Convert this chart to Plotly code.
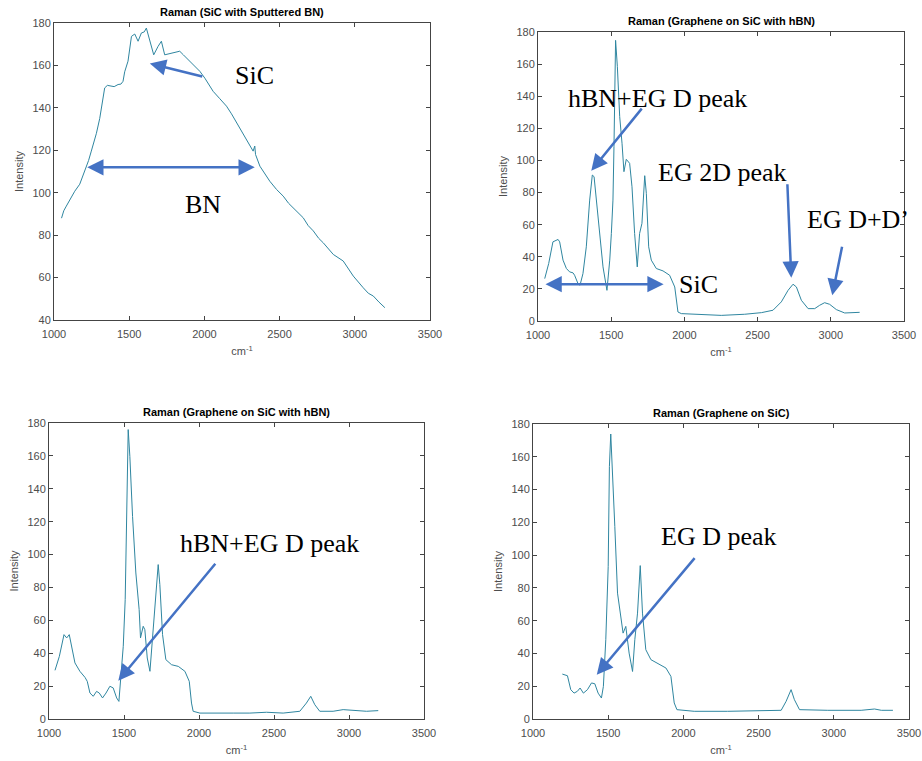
import plotly.graph_objects as go

# ---------------- data ----------------
# Panel 1: Raman (SiC with Sputtered BN)
p1_x = [1050, 1065, 1082, 1110, 1138, 1171, 1190, 1211, 1230, 1248, 1282, 1304, 1320, 1337, 1355, 1371,
        1400, 1426, 1445, 1459, 1470, 1492, 1505, 1515, 1537, 1559, 1581, 1600, 1614, 1637, 1663,
        1692, 1714, 1736, 1765, 1792, 1836, 1860, 1881, 1925, 1970, 2003, 2030, 2058, 2100, 2147,
        2180, 2213, 2250, 2280, 2324, 2335, 2340, 2369, 2400, 2435, 2480, 2524, 2560, 2590, 2620,
        2657, 2690, 2724, 2760, 2790, 2857, 2890, 2923, 2990, 3020, 3056, 3090, 3123, 3160, 3200]
p1_y = [88, 91.5, 93.7, 97.5, 100.7, 104, 107.5, 111.7, 115.2, 119.6, 128, 135, 143, 149.4, 150.6, 150.5,
        150, 151, 151.2, 152.5, 157, 162, 170, 173.7, 174.8, 171.4, 175.3, 175.8, 177.6, 171.4, 165,
        169, 171.4, 165, 165.5, 166.2, 166.7, 165, 163.5, 160.4, 157.2, 154, 151, 147.8, 144.5, 140.8,
        137.2, 133, 129, 125, 119.6, 122, 118, 112.5, 109, 105.4, 101.5, 98.4, 95, 92.9, 91.2,
        88.2, 84.5, 82, 78.5, 76.4, 70.9, 69.5, 67.8, 60.7, 58, 55.2, 52.6, 51.3, 48.5, 45.8]

# Panel 2: Raman (Graphene on SiC with hBN)
p2_x = [1046, 1073, 1102, 1137, 1148, 1171, 1194, 1216, 1239, 1250, 1273, 1287, 1307, 1330, 1353,
        1371, 1383, 1410, 1444, 1471, 1490, 1501, 1512, 1519, 1530, 1542, 1558, 1574, 1587, 1603,
        1626, 1642, 1660, 1678, 1694, 1710, 1729, 1740, 1756, 1774, 1808, 1854, 1899, 1934, 1956,
        1979, 2070, 2252, 2412, 2526, 2605, 2662, 2708, 2742, 2765, 2799, 2845, 2890, 2924, 2958,
        2992, 3038, 3095, 3152, 3197]
p2_y = [26.4, 35.8, 49.3, 50.8, 49.3, 37.9, 32.7, 30.6, 30, 28.5, 23.3, 22.3, 29.5, 46.2, 75.3,
        90.9, 89.9, 62.8, 33.7, 19.1, 37.9, 54.5, 75.3, 108.6, 174.8, 158.6, 127.3, 110.7, 93, 100.7,
        98.2, 83.6, 54.5, 33.7, 54.5, 60.8, 90.5, 79.5, 46.2, 37.9, 32.7, 31.2, 28.5, 21.2, 5.6,
        4.6, 4.2, 3.5, 4.2, 5.2, 6.7, 11.9, 19.1, 22.9, 21.2, 12.9, 7.7, 7.7, 9.8, 11.4,
        10.4, 7.1, 5.0, 5.0, 5.4]

# Panel 3: Raman (Graphene on SiC with hBN)
p3_x = [1040, 1069, 1100, 1118, 1135, 1151, 1173, 1206, 1240, 1255, 1273, 1295, 1317, 1335, 1357,
        1380, 1406, 1428, 1451, 1466, 1477, 1495, 1508, 1519, 1528, 1539, 1557, 1579, 1601, 1610,
        1628, 1639, 1655, 1673, 1684, 1699, 1717, 1728, 1739, 1757, 1779, 1817, 1862, 1906, 1935,
        1950, 1961, 2006, 2228, 2339, 2450, 2561, 2672, 2716, 2745, 2772, 2805, 2894, 2961, 3028,
        3117, 3195]
p3_y = [29.6, 38.1, 51.3, 49.3, 51.3, 44.2, 34.1, 29, 25.3, 22.9, 15.8, 13.8, 16.8, 15.8, 12.8,
        15.8, 19.9, 18.9, 12.8, 10.7, 25.9, 44.2, 72.6, 137.4, 176, 159.7, 123.2, 88.8, 66.5, 49.3,
        56.4, 54.3, 37.1, 29, 41.2, 56.4, 80.7, 93.9, 81.7, 51.3, 36.1, 33, 32, 29, 22.9,
        9.7, 4.7, 3.6, 3.6, 3.6, 4.1, 3.6, 4.7, 9.7, 13.8, 8.7, 4.7, 4.7, 5.7, 5.1,
        4.7, 5.1]

# Panel 4: Raman (Graphene on SiC)
p4_x = [1195, 1229, 1251, 1273, 1295, 1313, 1335, 1362, 1389, 1411, 1433, 1455, 1468, 1484, 1500,
        1508, 1517, 1528, 1544, 1562, 1579, 1599, 1617, 1639, 1662, 1677, 1695, 1713, 1728, 1750,
        1784, 1828, 1884, 1917, 1939, 1957, 2072, 2294, 2516, 2650, 2683, 2716, 2738, 2772, 2960,
        3182, 3271, 3316, 3393]
p4_y = [27.4, 26.4, 17.9, 15.8, 16.9, 18.9, 15.8, 17.9, 22, 21.5, 15.8, 12.8, 19.9, 48.4, 93,
        154, 173.9, 154, 117.4, 76.8, 64.6, 52.4, 56.5, 40.2, 29, 48.4, 64.6, 93.6, 64.6, 42.3,
        36.2, 34.1, 31.1, 26, 9.8, 5.7, 4.7, 4.7, 5.1, 5.3, 10.8, 17.9, 11.8, 5.7, 5.3,
        5.3, 6.1, 5.3, 5.3]

titles = ["Raman (SiC with Sputtered BN)", "Raman (Graphene on SiC with hBN)",
          "Raman (Graphene on SiC with hBN)", "Raman (Graphene on SiC)"]
x_ticks = [1000, 1500, 2000, 2500, 3000, 3500]
y_ticks_p1 = [40, 60, 80, 100, 120, 140, 160, 180]
y_ticks_rest = [0, 20, 40, 60, 80, 100, 120, 140, 160, 180]

# ---------------- styling ----------------
W, H = 922, 761
LINE = "#2f86a0"
ARROW = "#4472C4"
SANS = "Liberation Sans, Arial, sans-serif"
SERIF = "Liberation Serif, Times New Roman, serif"
TICKCOL = "#4d4d4d"

# panel pixel boxes (left, right, top, bottom)
boxes = [(54, 430, 23, 320), (538, 904, 32, 321), (49, 424, 423, 719), (533, 909, 424, 719)]

fig = go.Figure()
series = [(p1_x, p1_y), (p2_x, p2_y), (p3_x, p3_y), (p4_x, p4_y)]
for i, (xs, ys) in enumerate(series):
    sfx = "" if i == 0 else str(i + 1)
    fig.add_trace(go.Scatter(x=xs, y=ys, mode="lines", line=dict(color=LINE, width=1),
                             xaxis="x" + sfx, yaxis="y" + sfx, showlegend=False, hoverinfo="skip"))

layout = dict(width=W, height=H, margin=dict(l=0, r=0, t=0, b=0, autoexpand=False),
              paper_bgcolor="white", plot_bgcolor="white", showlegend=False)
annotations = []
for i, (l, r, t, b) in enumerate(boxes):
    sfx = "" if i == 0 else str(i + 1)
    yt = y_ticks_p1 if i == 0 else y_ticks_rest
    common = dict(showline=True, linecolor="#444444", linewidth=1, mirror="ticks",
                  ticks="inside", ticklen=4, tickcolor="#444444", showgrid=False, zeroline=False,
                  automargin=False,
                  tickfont=dict(family=SANS, size=11, color=TICKCOL))
    layout["xaxis" + sfx] = dict(domain=[l / W, r / W], anchor="y" + sfx, range=[1000, 3500],
                                 tickvals=x_ticks, ticktext=[str(v) for v in x_ticks],
                                 ticklabelstandoff=4,
                                 title=dict(text="cm<sup>-1</sup>", standoff=8,
                                            font=dict(family=SANS, size=11, color=TICKCOL)),
                                 **common)
    layout["yaxis" + sfx] = dict(domain=[1 - b / H, 1 - t / H], anchor="x" + sfx,
                                 range=[yt[0], yt[-1]], tickvals=yt, ticktext=[str(v) for v in yt],
                                 title=dict(text="Intensity", standoff=6,
                                            font=dict(family=SANS, size=11, color=TICKCOL)),
                                 **common)
    annotations.append(dict(text="<b>" + titles[i] + "</b>", xref="paper", yref="paper",
                            x=(l + r) / 2 / W, y=1 - (t - 3) / H, xanchor="center", yanchor="bottom",
                            showarrow=False, font=dict(family=SANS, size=11, color="black")))

def label(ax_i, text, x, y):
    sfx = "" if ax_i == 0 else str(ax_i + 1)
    annotations.append(dict(text=text, xref="x" + sfx, yref="y" + sfx, x=x, y=y,
                            xanchor="center", yanchor="middle", showarrow=False,
                            font=dict(family=SERIF, size=26, color="black")))

def arrow(ax_i, x0, y0, x1, y1, both=False):
    sfx = "" if ax_i == 0 else str(ax_i + 1)
    annotations.append(dict(text="", xref="x" + sfx, yref="y" + sfx, axref="x" + sfx, ayref="y" + sfx,
                            x=x1, y=y1, ax=x0, ay=y0, showarrow=True, arrowhead=2,
                            arrowside="end+start" if both else "end",
                            arrowsize=1.3, arrowwidth=2.5, arrowcolor=ARROW, standoff=0, startstandoff=0))

# panel 1
label(0, "SiC", 2335, 155.2)
arrow(0, 1996, 154.6, 1637, 160.9)
arrow(0, 1211, 112, 2335, 112, both=True)
label(0, "BN", 1992, 94.5)
# panel 2
label(1, "hBN+EG D peak", 1815, 138.8)
arrow(1, 1717, 133.2, 1364, 93.6)
label(1, "EG 2D peak", 2259, 92.4)
arrow(1, 2703, 86.1, 2730, 27)
label(1, "EG D+D’", 3186, 63.3)
arrow(1, 3079, 47.2, 3010, 16)
arrow(1, 1041, 22.9, 1858, 22.9, both=True)
label(1, "SiC", 2097, 22.7)
# panel 3
label(2, "hBN+EG D peak", 2468, 107)
arrow(2, 2117, 95.3, 1462, 23.3)
# panel 4
label(3, "EG D peak", 2234, 111.3)
arrow(3, 2083, 99.1, 1424, 27)

layout["annotations"] = annotations
fig.update_layout(**layout)
fig.write_html("out.html", config={"displayModeBar": False},
               post_script="document.body.style.margin='0';")
